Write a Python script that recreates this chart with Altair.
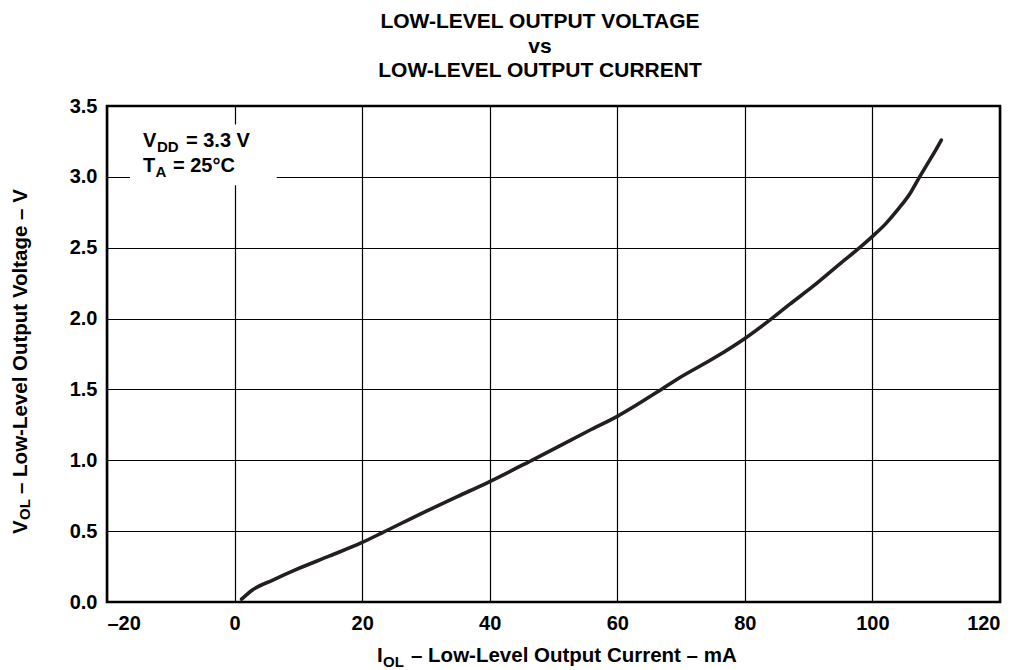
import altair as alt
import pandas as pd

# Curve (I_OL in mA, V_OL in V)
current_ma = [1.1, 2.8, 6.0, 9.7, 14.9, 20.0, 23.2, 30.0, 35.0, 40.0, 46.6,
              55.6, 60.0, 66.9, 69.2, 75.5, 80.0, 84.2, 87.0, 90.6, 95.0, 98.0,
              100.0, 102.1, 104.0, 106.0, 107.4, 108.6, 109.8, 110.8]
voltage_v = [0.02, 0.085, 0.155, 0.23, 0.325, 0.42, 0.49, 0.64, 0.745, 0.85, 1.00,
             1.21, 1.31, 1.50, 1.567, 1.73, 1.86, 2.00, 2.10, 2.225, 2.39, 2.50,
             2.58, 2.67, 2.77, 2.89, 3.00, 3.09, 3.18, 3.26]

x_ticks = [-20, 0, 20, 40, 60, 80, 100, 120]
y_ticks = [0.0, 0.5, 1.0, 1.5, 2.0, 2.5, 3.0, 3.5]

title_lines = ["LOW-LEVEL OUTPUT VOLTAGE", "vs", "LOW-LEVEL OUTPUT CURRENT"]
# annotation box extent in data units
box_x = [-16.4, 6.6]
box_y = [2.94, 3.37]

FONT = "Liberation Sans"
W, H = 893, 496

df = pd.DataFrame({"I": current_ma, "V": voltage_v})

xscale = alt.Scale(domain=[-20, 120], nice=False, zero=False)
yscale = alt.Scale(domain=[0, 3.5], nice=False, zero=False)

base = alt.Chart(df).mark_line(color="#231f20", strokeWidth=3.6, strokeCap="round",
                               strokeJoin="round", interpolate="monotone").encode(
    x=alt.X("I:Q", scale=xscale,
            axis=alt.Axis(values=x_ticks, title=None, grid=True, ticks=False, domain=False,
                          labelPadding=11,
                          labelExpr="datum.value < 0 ? '–' + abs(datum.value) : '' + datum.value")),
    y=alt.Y("V:Q", scale=yscale,
            axis=alt.Axis(values=y_ticks, title=None, grid=True, ticks=False, domain=False,
                          format=".1f", labelPadding=10)),
)

box = alt.Chart(pd.DataFrame({"x0": [box_x[0]], "x1": [box_x[1]],
                              "y0": [box_y[0]], "y1": [box_y[1]]})).mark_rect(
    color="white").encode(x=alt.X("x0:Q", scale=xscale), x2="x1:Q",
                          y=alt.Y("y0:Q", scale=yscale), y2="y1:Q")


def txt(s, x, y, size=20, align="left", angle=0):
    kw = dict(font=FONT, fontWeight="bold", fontSize=size, align=align,
              baseline="alphabetic", color="black")
    if angle:
        kw["angle"] = angle
    return alt.Chart(pd.DataFrame({"t": [s]})).mark_text(**kw).encode(
        x=alt.value(x), y=alt.value(y), text="t:N")


layers = [box, base]

# title
for i, line in enumerate(title_lines):
    layers.append(txt(line, 433, -78 + 24.5 * i, size=21, align="center"))

# annotation
layers += [
    txt("V", 36, 41), txt("DD", 50, 46, size=15), txt("= 3.3 V", 79, 41),
    txt("T", 36, 66), txt("A", 48.5, 71, size=15), txt("= 25°C", 66, 66),
]

# x axis title
layers += [
    txt("I", 270, 556, size=20.5), txt("OL", 276, 561, size=15),
    txt("– Low-Level Output Current – mA", 304, 556, size=20.5),
]

# y axis title (rotated)
y0 = 428
layers += [
    txt("V", -80, y0, size=20.5, angle=270),
    txt("OL", -77, y0 - 14, size=15, angle=270),
    txt("– Low-Level Output Voltage – V", -80, y0 - 14 - 26, size=20.5, angle=270),
]

chart = alt.layer(*layers).properties(
    width=W, height=H,
    autosize=alt.AutoSizeParams(type="none"),
    padding={"left": 99, "top": 98, "right": 13, "bottom": 68},
).configure_view(
    stroke="black", strokeWidth=2.6
).configure_axis(
    labelFont=FONT, labelFontWeight="bold", labelFontSize=20, labelColor="black",
    gridColor="black", gridWidth=1.2, gridOpacity=1,
)

chart.save("out.html", embed_options={"renderer": "svg", "actions": False})
